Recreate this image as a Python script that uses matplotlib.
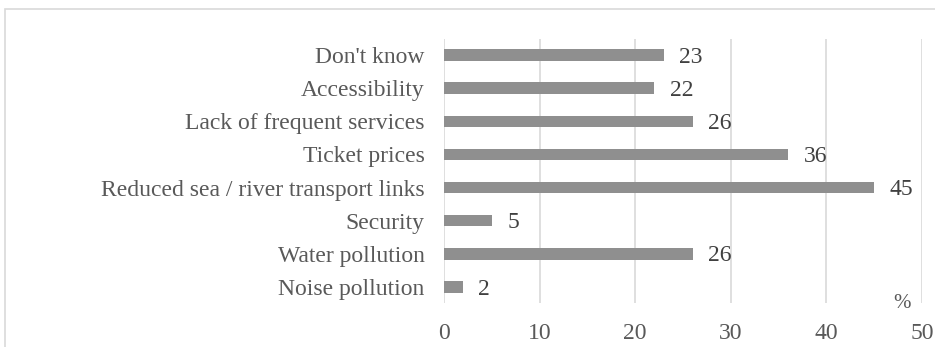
import matplotlib.pyplot as plt
from matplotlib.patches import Rectangle

plt.rcParams['font.family'] = ['Liberation Serif', 'DejaVu Serif']

categories = ["Don't know", "Accessibility", "Lack of frequent services", "Ticket prices",
              "Reduced sea / river transport links", "Security", "Water pollution", "Noise pollution"]
values = [23, 22, 26, 36, 45, 5, 26, 2]
xticks = [0, 10, 20, 30, 40, 50]

fig = plt.figure(figsize=(9.35, 3.47), dpi=100)
ax = fig.add_axes([0.4749, 0.1254, 0.5112, 0.7636])

# light frame around the chart area (cut at right/bottom like the original)
fig.patches.append(Rectangle((5 / 935, -0.1), 1.2, 1 - 9 / 347 + 0.1, transform=fig.transFigure,
                             fill=False, edgecolor='#d9d9d9', linewidth=1.2))

pos = list(range(len(categories)))[::-1]
ax.barh(pos, values, height=0.35, color='#8f8f8f', zorder=3)

for p, v in zip(pos, values):
    ax.annotate(str(v), (v, p), xytext=(11, -1.5), textcoords='offset points',
                ha='left', va='center', fontsize=17, color='#404040')

ax.set_xlim(0, 50)
ax.set_ylim(-0.5, len(categories) - 0.5)
ax.set_xticks(xticks)
ax.set_yticks(pos)
ax.set_yticklabels(categories)
ax.tick_params(axis='both', length=0)
ax.tick_params(axis='x', colors='#595959', labelsize=17, pad=14)
ax.tick_params(axis='y', colors='#595959', labelsize=17, pad=14)
ax.xaxis.grid(True, color='#d9d9d9', linewidth=1.2, zorder=0)
ax.set_axisbelow(True)
for s in ax.spines.values():
    s.set_visible(False)

ax.text(47.9, -0.5, '%', ha='center', va='center', fontsize=15, color='#595959')

fig.savefig('out.png', dpi=100)
